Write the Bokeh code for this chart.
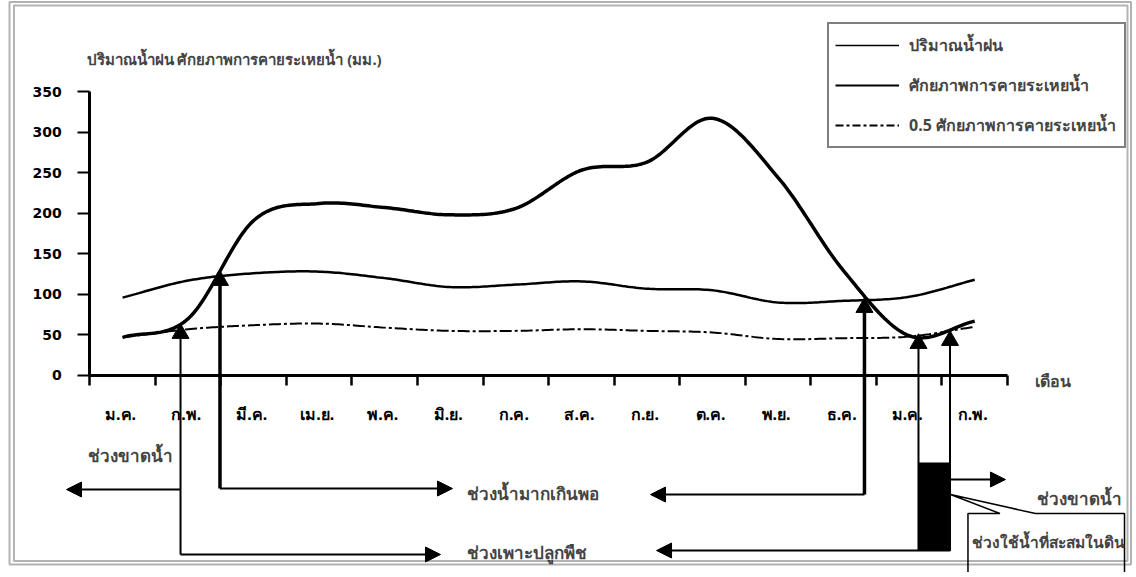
import numpy as np
from bokeh.plotting import figure
from bokeh.models import (Range1d, LinearAxis, FixedTicker, Arrow, NormalHead,
                          BoxAnnotation, Legend, LegendItem, Label)
from bokeh.embed import file_html
from bokeh.resources import INLINE

# ---------------- data ----------------
months = ["ม.ค.", "ก.พ.", "มี.ค.", "เม.ย.", "พ.ค.", "มิ.ย.", "ก.ค.",
          "ส.ค.", "ก.ย.", "ต.ค.", "พ.ย.", "ธ.ค.", "ม.ค.", "ก.พ."]
rainfall = [47, 70, 191, 212, 207, 198, 206, 253, 263, 317, 244, 129, 49, 67]
et = [96, 117, 126, 128, 120, 109, 112, 116, 107, 105, 90, 92, 97, 118]
half_et = [47, 57, 62, 64, 59, 55, 55, 57, 55, 53, 45, 46, 48, 60]
y_ticks = [0, 50, 100, 150, 200, 250, 300, 350]

series_labels = ["ปริมาณน้ำฝน", "ศักยภาพการคายระเหยน้ำ", "0.5 ศักยภาพการคายระเหยน้ำ"]
y_title = "ปริมาณน้ำฝน ศักยภาพการคายระเหยน้ำ (มม.)"
x_title = "เดือน"

# crossing points (month units, mm)
cross_x = [1.384, 1.986, 11.818, 12.642, 13.123]
cross_y = [51.8, 117.1, 83.8, 39.4, 43.1]

# diagram below the axis (month units, mm-scale units)
drop_bottom = [-220.6, -139.3, -146.7, -108.5, -108.5]
drop_width = [2, 3.5, 3.5, 2, 2]
arrows = [  # x_start, y_start, x_end, y_end
    (1.384, -220.6, 5.350, -220.6),
    (1.384, -140.5, -0.355, -140.5),
    (1.986, -139.3, 5.533, -139.3),
    (11.818, -146.7, 8.554, -146.7),
    (12.642, -215.7, 8.646, -215.7),
    (13.123, -128.2, 13.969, -128.2),
]
store_box = dict(left=12.642, right=13.123, top=-108.5, bottom=-215.7)
callout_x = [13.397, 13.885, 13.131, 14.427, 15.785, 15.785, 13.397]
callout_y = [-170.1, -170.1, -146.7, -170.1, -170.1, -252.6, -252.6]
notes = [  # text, x(left), y(middle), size
    ("ช่วงขาดน้ำ", -0.02, -98.6, "17px"),
    ("ช่วงน้ำมากเกินพอ", 5.762, -145.4, "17px"),
    ("ช่วงเพาะปลูกพืช", 5.762, -218.1, "17px"),
    ("ช่วงขาดน้ำ", 14.443, -151.6, "17px"),
    ("ช่วงใช้น้ำที่สะสมในดิน", 13.46, -204.6, "15.5px"),
]

THAI = "Noto Sans"
NUM = "DejaVu Sans"


def smooth(xs, ys, n=24):
    xs = np.asarray(xs, float)
    ys = np.asarray(ys, float)
    m = len(xs)
    t = np.zeros(m)
    t[1:-1] = (ys[2:] - ys[:-2]) / (xs[2:] - xs[:-2])
    t[0] = (ys[1] - ys[0]) / (xs[1] - xs[0])
    t[-1] = (ys[-1] - ys[-2]) / (xs[-1] - xs[-2])
    ox, oy = [], []
    for i in range(m - 1):
        h = xs[i + 1] - xs[i]
        s = np.linspace(0, 1, n, endpoint=(i == m - 2))
        h00 = 2 * s**3 - 3 * s**2 + 1
        h10 = s**3 - 2 * s**2 + s
        h01 = -2 * s**3 + 3 * s**2
        h11 = s**3 - s**2
        ox.extend(xs[i] + s * h)
        oy.extend(h00 * ys[i] + h10 * h * t[i] + h01 * ys[i + 1] + h11 * h * t[i + 1])
    return ox, oy


month_x = [i + 0.5 for i in range(len(months))]
label_x = [i + 0.47 for i in range(len(months))]

W, H = 1132, 572
p = figure(width=W, height=H, x_range=Range1d(-1.3623, 15.907),
           y_range=Range1d(-242.79, 462.16), output_backend="svg",
           toolbar_location=None, min_border=0, x_axis_type=None, y_axis_type=None)
p.outline_line_color = None
p.background_fill_color = "white"

for (l, t, r, b, w) in [(9, 8, W - 1.5, H - 1.5, 2), (13.5, 11.5, W - 5, H - 5, 2)]:
    p.add_layout(BoxAnnotation(left=l, right=r, top=t, bottom=b,
                               left_units="screen", right_units="screen",
                               top_units="screen", bottom_units="screen",
                               fill_color=None, line_color="black", line_width=w))

# axes
xaxis = LinearAxis(fixed_location=0, bounds=(0, len(months)),
                   ticker=FixedTicker(ticks=list(range(len(months) + 1))),
                   axis_line_width=3, major_tick_line_width=2.5,
                   major_tick_out=10, major_tick_in=0,
                   minor_tick_line_color=None, major_label_text_color=None)
p.add_layout(xaxis, "below")
xlab = LinearAxis(fixed_location=0, ticker=FixedTicker(ticks=label_x),
                  major_label_overrides={x: m for x, m in zip(label_x, months)},
                  axis_line_color=None, major_tick_line_color=None,
                  minor_tick_line_color=None, major_tick_out=0, major_tick_in=0,
                  major_label_standoff=28, major_label_text_font=THAI,
                  major_label_text_font_style="bold",
                  major_label_text_font_size="16px", major_label_text_color="black")
p.add_layout(xlab, "below")
yaxis = LinearAxis(fixed_location=0, bounds=(0, 350), ticker=FixedTicker(ticks=y_ticks),
                   axis_line_width=3, major_tick_line_width=2,
                   major_tick_out=12, major_tick_in=0, minor_tick_line_color=None,
                   major_label_standoff=16, major_label_text_font=NUM,
                   major_label_text_font_style="bold",
                   major_label_text_font_size="14px", major_label_text_color="black")
p.add_layout(yaxis, "left")

# series
rx, ry = smooth(month_x, rainfall)
ex, ey = smooth(month_x, et)
hx, hy = smooth(month_x, half_et)
p.line(rx, ry, line_width=3.5, line_color="black")
p.line(ex, ey, line_width=2.5, line_color="black")
p.line(hx, hy, line_width=2, line_color="black", line_dash="12 3 3 3")

# legend samples (thinner lines as in the original legend)
g1 = p.line(month_x[:1], rainfall[:1], line_width=1.5, line_color="black")
g2 = p.line(month_x[:1], et[:1], line_width=2, line_color="black")
g3 = p.line(month_x[:1], half_et[:1], line_width=2, line_color="black", line_dash="8 3 3 3")

# crossing markers and drop lines
for x0, y0, y1, w in zip(cross_x, cross_y, drop_bottom, drop_width):
    p.segment(x0=[x0], y0=[y0], x1=[x0], y1=[y1], line_color="black", line_width=w)
p.scatter(cross_x, cross_y, marker="triangle", size=17, color="black")

p.quad(left=[store_box["left"]], right=[store_box["right"]],
       top=[store_box["top"]], bottom=[store_box["bottom"]],
       fill_color="black", line_color="black", line_width=2)

for xs, ys, xe, ye in arrows:
    p.add_layout(Arrow(x_start=xs, y_start=ys, x_end=xe, y_end=ye, line_width=2,
                       end=NormalHead(size=15, fill_color="black", line_color="black")))

p.patch(callout_x, callout_y, fill_color="white", line_color="black", line_width=1.5)

for txt, x, y, fs in notes:
    p.add_layout(Label(x=x, y=y, text=txt, text_font=THAI, text_font_style="bold",
                       text_font_size=fs, text_baseline="middle", text_align="left"))

p.add_layout(Label(x=-0.05, y=390.0, text=y_title, text_font=THAI,
                   text_font_style="bold", text_font_size="15px",
                   text_baseline="middle", text_align="left"))
p.add_layout(Label(x=14.427, y=-6.2, text=x_title, text_font=THAI,
                   text_font_style="bold", text_font_size="16px",
                   text_baseline="middle", text_align="left"))

legend = Legend(items=[LegendItem(label=series_labels[0], renderers=[g1]),
                       LegendItem(label=series_labels[1], renderers=[g2]),
                       LegendItem(label=series_labels[2], renderers=[g3])],
                location=(827, 424), margin=0, padding=6, spacing=10,
                glyph_width=64, glyph_height=30, label_height=30, label_width=209,
                label_standoff=10, label_text_font=THAI, label_text_font_style="bold",
                label_text_font_size="16px", border_line_color="black",
                border_line_width=2, background_fill_color="white",
                background_fill_alpha=1)
p.add_layout(legend)

open("out.html", "w").write(file_html(p, INLINE))
